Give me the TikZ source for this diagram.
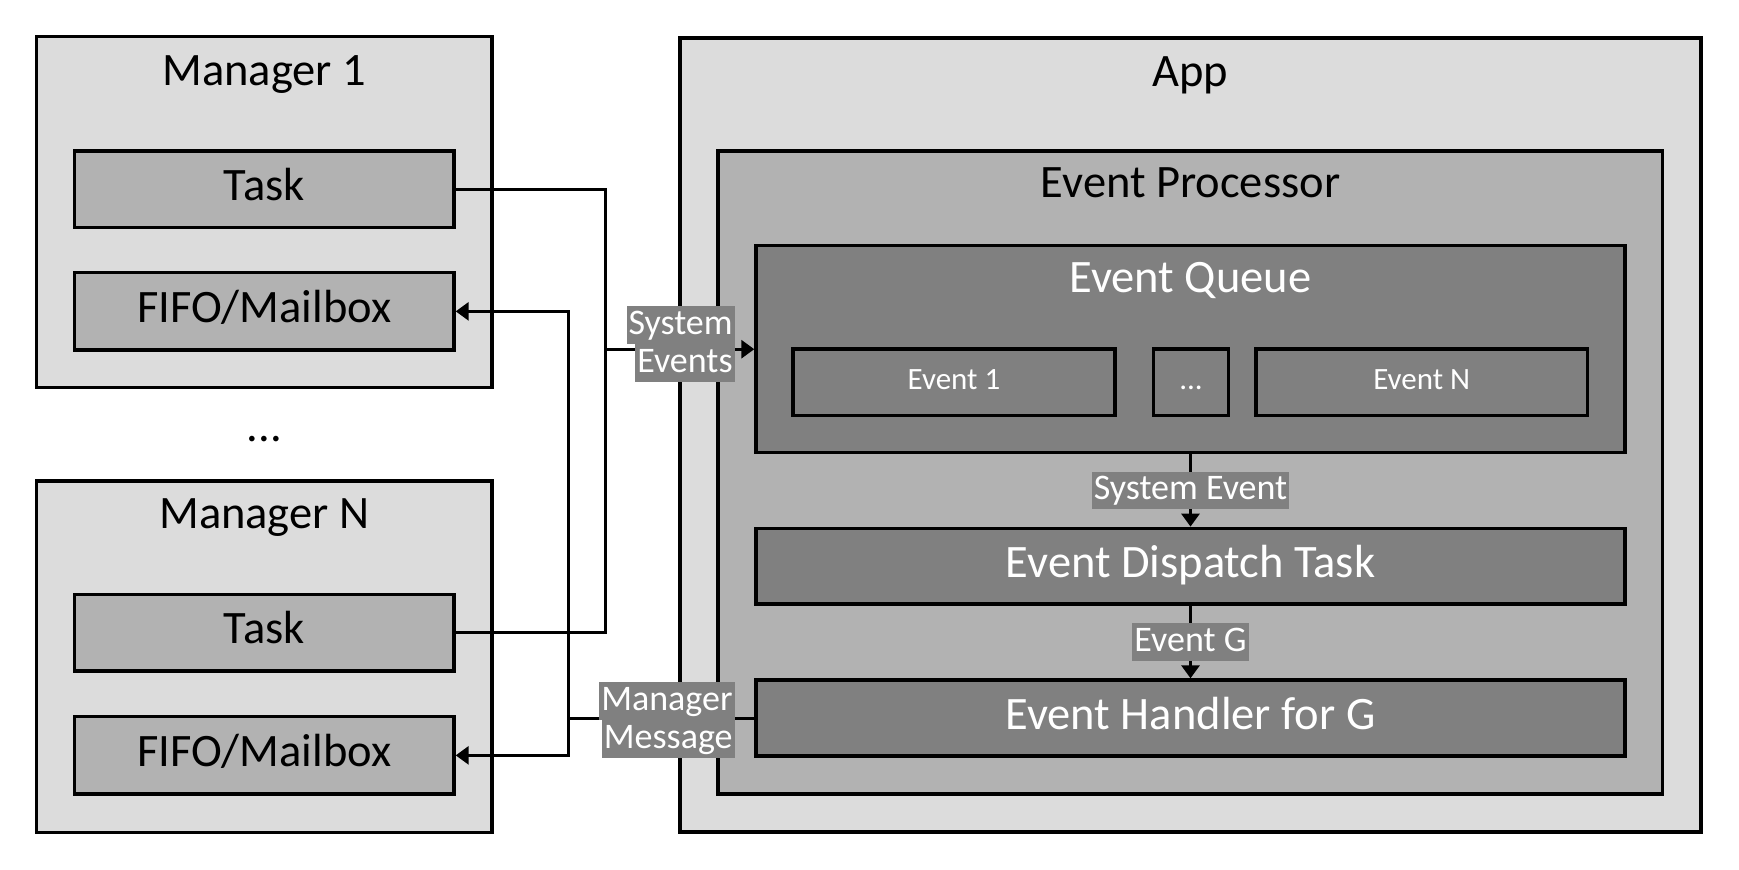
\documentclass[tikz,border=0pt]{standalone}
\usepackage{fontspec}
\setmainfont{Carlito}
\usetikzlibrary{fit,arrows.meta,calc}
\definecolor{lightg}{HTML}{DCDCDC}
\definecolor{midg}{HTML}{B2B2B2}
\definecolor{darkg}{HTML}{808080}
\newcommand\myTitleFont{\fontsize{23.25}{28}\selectfont}
\newcommand\mySmallFont{\fontsize{15.5}{19}\selectfont}
\newcommand\myLabelFont{\fontsize{18}{22}\selectfont}
\begin{document}
\begin{tikzpicture}[x=0.5pt,y=-0.5pt,
  basebox/.style={draw=black, line width=1.7pt, inner sep=0pt},
  wh/.style 2 args={minimum width=#1*0.5pt, minimum height=#2*0.5pt},
  lightbox/.style={basebox, fill=lightg},
  midbox/.style={basebox, fill=midg, font=\myTitleFont, text height=15pt, text depth=4pt},
  darkbox/.style={basebox, fill=darkg, text=white, font=\myTitleFont, text height=15pt, text depth=4pt},
  eventbox/.style={basebox, fill=darkg, text=white, font=\mySmallFont, text height=10pt, text depth=3pt},
  title/.style={anchor=base, font=\myTitleFont, inner sep=0pt},
  conn/.style={draw=black, line width=1.5pt},
  arr/.style={conn, -{Triangle[length=6.5pt, width=9pt]}},
  lbl/.style={fill=darkg, text=white, font=\myLabelFont, inner xsep=1pt, inner ysep=0.3pt, text height=13.5pt, text depth=4.5pt}
]
\useasboundingbox (0,0) rectangle (1739,869);
% App side
\node[lightbox, fit={(680,38) (1701,832)}] (app) {};
\node[title] (appt) at (1190.5,86) {App};
\node[basebox, fill=midg, fit={(718,151) (1662.5,794)}] (ep) {};
\node[title] (ept) at (1190.5,197) {Event Processor};
\node[basebox, fill=darkg, fit={(756,245.7) (1625,452.7)}] (eq) {};
\node[title, text=white] (eqt) at (1190.5,292) {Event Queue};
\node[eventbox, wh={322}{66.7}] (e1) at (954,382.35) {Event 1};
\node[eventbox, wh={75}{66.7}] (edots) at (1191,382.35) {...};
\node[eventbox, wh={331.5}{66.7}] (en) at (1421.75,382.35) {Event N};
\node[darkbox, wh={869}{75.7}] (edt) at (1190.5,566.15) {Event Dispatch Task};
\node[darkbox, wh={869}{76}] (eh) at (1190.5,718) {Event Handler for G};
% Managers
\node[lightbox, fit={(36.6,36.7) (492,387.7)}] (m1) {};
\node[title] (m1t) at (264.3,85) {Manager 1};
\node[midbox, wh={379.4}{76.7}] (t1) at (264.3,189.35) {Task};
\node[midbox, wh={379.4}{77.3}] (f1) at (264.3,311.35) {FIFO/Mailbox};
\node[title] (mdots) at (264.3,441) {...};
\node[lightbox, fit={(36.6,481) (492,832.3)}] (mn) {};
\node[title] (mnt) at (264.3,528) {Manager N};
\node[midbox, wh={379.4}{76.7}] (tn) at (264.3,632.65) {Task};
\node[midbox, wh={379.4}{77.3}] (fn) at (264.3,755.35) {FIFO/Mailbox};
% connectors
\coordinate (sysbus) at (605,349.2);
\coordinate (msgbus) at (568,718);
\draw[conn] (t1.east) -| (sysbus) |- (tn.east);
\draw[arr] (sysbus) -- (eq.west);
\draw[conn] (eh.west) -- (msgbus);
\draw[arr] (msgbus) |- (f1.east);
\draw[arr] (msgbus) |- (fn.east);
\draw[arr] (eq.south) -- (edt.north);
\draw[arr] (edt.south) -- (eh.north);
% labels
\node[lbl] (sel) at ($(eq.south)!0.5!(edt.north)$) {System Event};
\node[lbl] (egl) at ($(edt.south)!0.5!(eh.north)$) {Event G};
\coordinate (selab) at (735,344);
\node[lbl, anchor=south east] (se1) at (selab) {System};
\node[lbl, anchor=north east] (se2) at (selab) {Events};
\coordinate (mmlab) at (735,720);
\node[lbl, anchor=south east] (mm1) at (mmlab) {Manager};
\node[lbl, anchor=north east] (mm2) at (mmlab) {Message};
\end{tikzpicture}
\end{document}
